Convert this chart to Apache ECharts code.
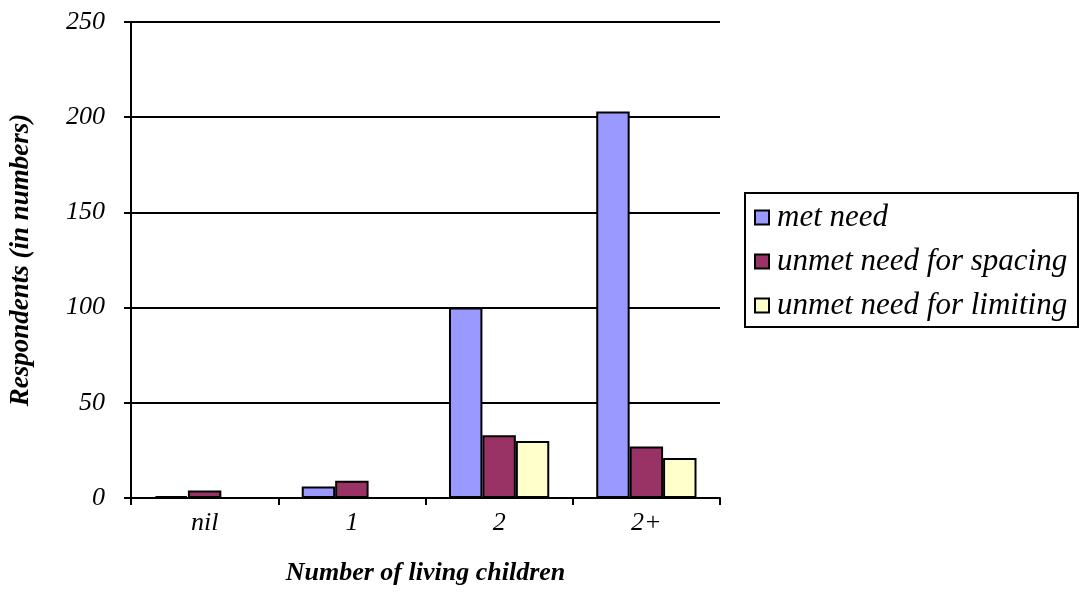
<!DOCTYPE html>
<html>
<head>
<meta charset="utf-8">
<script src="https://cdn.jsdelivr.net/npm/echarts@6/dist/echarts.min.js"></script>
<style>
  html, body { margin: 0; padding: 0; background: #ffffff; }
  #chart { width: 1081px; height: 613px; }
</style>
</head>
<body>
<div id="chart"></div>
<script>
// Respondents by number of living children
const categories = ['nil', '1', '2', '2+'];
const metNeed = [1, 6, 100, 203];
const unmetSpacing = [4, 9, 33, 27];
const unmetLimiting = [0, 0, 30, 21];
const yTicks = [0, 50, 100, 150, 200, 250];
const seriesNames = ['met need', 'unmet need for spacing', 'unmet need for limiting'];

const FONT = '"Liberation Serif", "Times New Roman", serif';

const chart = echarts.init(document.getElementById('chart'), null, { renderer: 'canvas' });

function barSeries(name, data, color) {
  return {
    name: name,
    type: 'bar',
    data: data,
    barWidth: '22.7%',
    barGap: '0%',
    itemStyle: { color: color, borderColor: '#000000', borderWidth: 2 },
    emphasis: { disabled: true }
  };
}

chart.setOption({
  animation: false,
  backgroundColor: '#ffffff',
  grid: { left: 130, right: 361, top: 22, bottom: 115, containLabel: false },
  // frame around the legend
  graphic: [{
    type: 'rect',
    shape: { x: 745, y: 193, width: 333, height: 134 },
    style: { fill: 'none', stroke: '#000000', lineWidth: 2 },
    silent: true,
    z: 1
  }],
  legend: {
    orient: 'vertical',
    left: 754,
    top: 202,
    padding: 0,
    itemWidth: 14,
    itemHeight: 14,
    itemGap: 13,
    icon: 'rect',
    textStyle: { fontFamily: FONT, fontStyle: 'italic', fontSize: 31, color: '#000000', padding: [0, 0, 0, 3] },
    data: seriesNames
  },
  xAxis: {
    type: 'category',
    data: categories,
    boundaryGap: true,
    name: 'Number of living children',
    nameLocation: 'middle',
    nameGap: 62,
    nameTextStyle: { fontFamily: FONT, fontStyle: 'italic', fontWeight: 'bold', fontSize: 26, color: '#000000' },
    axisLine: { lineStyle: { color: '#000000', width: 2 } },
    axisTick: { show: true, length: 7, inside: false, lineStyle: { color: '#000000', width: 2 } },
    axisLabel: { fontFamily: FONT, fontStyle: 'italic', fontSize: 26, color: '#000000', margin: 12 }
  },
  yAxis: {
    type: 'value',
    min: 0,
    max: 250,
    interval: 50,
    name: 'Respondents (in numbers)',
    nameLocation: 'middle',
    nameGap: 96,
    nameRotate: 90,
    nameTextStyle: { fontFamily: FONT, fontStyle: 'italic', fontWeight: 'bold', fontSize: 27, color: '#000000' },
    axisLine: { show: true, lineStyle: { color: '#000000', width: 2 } },
    axisTick: { show: true, length: 7, inside: false, lineStyle: { color: '#000000', width: 2 } },
    axisLabel: {
      fontFamily: FONT, fontStyle: 'italic', fontSize: 26, color: '#000000', margin: 26,
      formatter: function (v) { return yTicks.indexOf(v) >= 0 ? String(v) : ''; }
    },
    splitLine: { show: true, lineStyle: { color: '#000000', width: 2 } }
  },
  series: [
    barSeries(seriesNames[0], metNeed, '#9999ff'),
    barSeries(seriesNames[1], unmetSpacing, '#993366'),
    barSeries(seriesNames[2], unmetLimiting, '#ffffcc')
  ]
});
</script>
</body>
</html>
